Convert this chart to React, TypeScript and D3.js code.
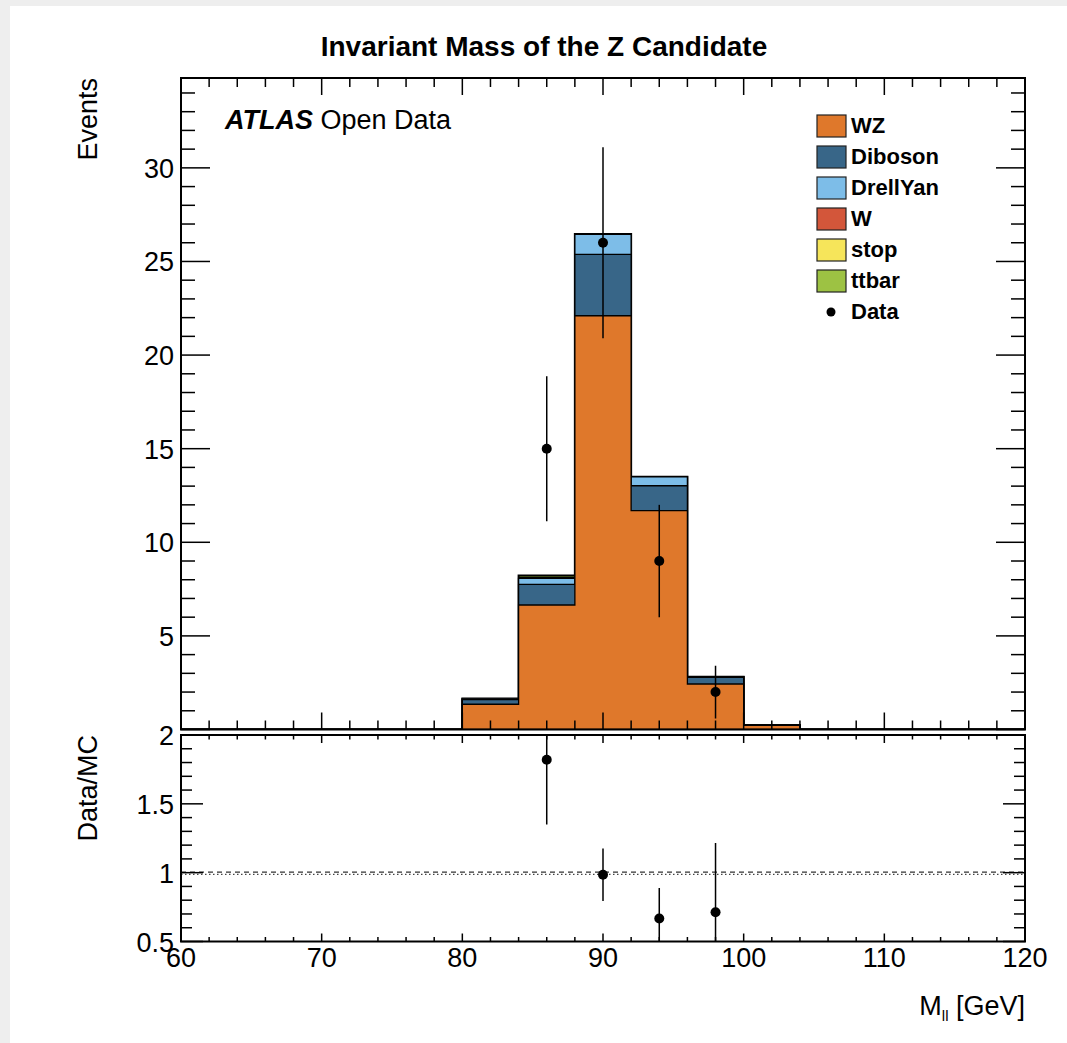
import { useEffect, useRef } from 'react';
import * as d3 from 'd3';

// Histogram bins (GeV), only non-empty region listed; width 4 GeV
const binLows = [80, 84, 88, 92, 96, 100];
const binWidth = 4;

// Stacked MC components, per bin
const wz = [1.35, 6.65, 22.1, 11.69, 2.43, 0.22];
const diboson = [0.25, 1.1, 3.28, 1.33, 0.35, 0.01];
const drellYan = [0.04, 0.32, 1.07, 0.47, 0.04, 0.0];
const wBoson = [0.0, 0.02, 0.0, 0.0, 0.0, 0.0];
const stop = [0.0, 0.03, 0.0, 0.0, 0.0, 0.0];
const ttbar = [0.02, 0.1, 0.02, 0.01, 0.0, 0.0];

// Data points
const dataX = [86, 90, 94, 98];
const dataY = [15, 26, 9, 2];
const dataErr = [3.87, 5.1, 3.0, 1.41];

// Ratio panel
const ratioY = [1.82, 0.985, 0.667, 0.712];
const ratioErr = [0.47, 0.19, 0.222, 0.503];

const SERIES = [
    { name: 'WZ', values: wz, color: '#df782b' },
    { name: 'Diboson', values: diboson, color: '#386688' },
    { name: 'DrellYan', values: drellYan, color: '#7dbde8' },
    { name: 'W', values: wBoson, color: '#d3563a' },
    { name: 'stop', values: stop, color: '#f6e55a' },
    { name: 'ttbar', values: ttbar, color: '#9dc243' },
];

const FONT = "'Liberation Sans', Arial, Helvetica, sans-serif";
const W = 1067;
const H = 1043;

export default function App() {
    const svgRef = useRef<SVGSVGElement | null>(null);

    useEffect(() => {
        if (!svgRef.current) return;
        const svg = d3.select(svgRef.current);
        svg.selectAll('*').remove();

        const x0 = 181, x1 = 1025;
        const topY0 = 78, topY1 = 729.5;
        const botY0 = 735, botY1 = 941.5;

        const x = d3.scaleLinear().domain([60, 120]).range([x0, x1]);
        const y = d3.scaleLinear().domain([0, 34.8]).range([topY1, topY0]);
        const yr = d3.scaleLinear().domain([0.5, 2]).range([botY1, botY0]);

        // page background
        svg.append('rect').attr('width', W).attr('height', H).attr('fill', '#eeeeee');
        svg.append('rect').attr('x', 10).attr('y', 6).attr('width', W - 10).attr('height', H - 6).attr('fill', '#ffffff');

        // clip paths
        const defs = svg.append('defs');
        defs.append('clipPath').attr('id', 'clip-top').append('rect')
            .attr('x', x0).attr('y', topY0).attr('width', x1 - x0).attr('height', topY1 - topY0);
        defs.append('clipPath').attr('id', 'clip-bot').append('rect')
            .attr('x', x0).attr('y', botY0).attr('width', x1 - x0).attr('height', botY1 - botY0);

        // ---- stacked histogram ----
        const cum: number[][] = [];
        let run = binLows.map(() => 0);
        SERIES.forEach(s => {
            run = run.map((v, i) => v + s.values[i]);
            cum.push(run.slice());
        });

        const stepArea = d3.area<[number, number]>()
            .x(d => x(d[0]))
            .y0(y(0))
            .y1(d => y(d[1]))
            .curve(d3.curveStepAfter);

        const gHist = svg.append('g').attr('clip-path', 'url(#clip-top)');
        for (let k = SERIES.length - 1; k >= 0; k--) {
            const vals = cum[k];
            const pts: [number, number][] = [[60, 0]];
            binLows.forEach((b, i) => pts.push([b, vals[i]]));
            const last = binLows[binLows.length - 1] + binWidth;
            pts.push([last, 0]);
            pts.push([120, 0]);
            gHist.append('path')
                .attr('d', stepArea(pts))
                .attr('fill', SERIES[k].color)
                .attr('stroke', '#000')
                .attr('stroke-width', k === SERIES.length - 1 ? 2 : 1.3);
        }

        // data points (upper)
        const gData = svg.append('g').attr('clip-path', 'url(#clip-top)');
        dataX.forEach((dx, i) => {
            gData.append('line')
                .attr('x1', x(dx)).attr('x2', x(dx))
                .attr('y1', y(dataY[i] - dataErr[i])).attr('y2', y(dataY[i] + dataErr[i]))
                .attr('stroke', '#000').attr('stroke-width', 1.5);
            gData.append('circle')
                .attr('cx', x(dx)).attr('cy', y(dataY[i])).attr('r', 5).attr('fill', '#000');
        });

        // ---- ratio panel ----
        const gRat = svg.append('g').attr('clip-path', 'url(#clip-bot)');
        gRat.append('line')
            .attr('x1', x0).attr('x2', x1).attr('y1', yr(1) - 0.5).attr('y2', yr(1) - 0.5)
            .attr('stroke', '#333').attr('stroke-width', 1.2).attr('stroke-dasharray', '5,4');
        gRat.append('line')
            .attr('x1', x0).attr('x2', x1).attr('y1', yr(1) + 1.8).attr('y2', yr(1) + 1.8)
            .attr('stroke', '#444').attr('stroke-width', 1.2).attr('stroke-dasharray', '1.5,2.5');
        dataX.forEach((dx, i) => {
            gRat.append('line')
                .attr('x1', x(dx)).attr('x2', x(dx))
                .attr('y1', yr(ratioY[i] - ratioErr[i])).attr('y2', yr(ratioY[i] + ratioErr[i]))
                .attr('stroke', '#000').attr('stroke-width', 1.5);
            gRat.append('circle')
                .attr('cx', x(dx)).attr('cy', yr(ratioY[i])).attr('r', 5).attr('fill', '#000');
        });

        // ---- ticks ----
        const tick = (g: any, x1_: number, y1_: number, x2_: number, y2_: number) =>
            g.append('line').attr('x1', x1_).attr('y1', y1_).attr('x2', x2_).attr('y2', y2_)
                .attr('stroke', '#000').attr('stroke-width', 1.5);

        const gTicks = svg.append('g');
        const xMajor = x.ticks(6);
        const xMinor = d3.range(60, 120.01, 2).filter(v => !xMajor.includes(v));

        xMajor.forEach(v => {
            tick(gTicks, x(v), topY0, x(v), topY0 + 17);
            tick(gTicks, x(v), topY1, x(v), topY1 - 17);
            tick(gTicks, x(v), botY0, x(v), botY0 + 8);
            tick(gTicks, x(v), botY1, x(v), botY1 - 8);
        });
        xMinor.forEach(v => {
            tick(gTicks, x(v), topY0, x(v), topY0 + 9);
            tick(gTicks, x(v), topY1, x(v), topY1 - 9);
            tick(gTicks, x(v), botY0, x(v), botY0 + 4.5);
            tick(gTicks, x(v), botY1, x(v), botY1 - 4.5);
        });

        // upper y ticks
        const yMajor = y.ticks(7);
        const yMinor = d3.range(0, 34.8, 1).filter(v => !yMajor.includes(v));
        yMajor.forEach(v => {
            tick(gTicks, x0, y(v), x0 + 29, y(v));
            tick(gTicks, x1, y(v), x1 - 29, y(v));
        });
        yMinor.forEach(v => {
            tick(gTicks, x0, y(v), x0 + 14, y(v));
            tick(gTicks, x1, y(v), x1 - 14, y(v));
        });

        // ratio y ticks
        const rMajor = yr.ticks(3);
        const rMinor = d3.range(5, 21, 1).map(v => v / 10).filter(v => !rMajor.includes(v));
        rMajor.forEach(v => {
            tick(gTicks, x0, yr(v), x0 + 22, yr(v));
            tick(gTicks, x1, yr(v), x1 - 22, yr(v));
        });
        rMinor.forEach(v => {
            tick(gTicks, x0, yr(v), x0 + 11, yr(v));
            tick(gTicks, x1, yr(v), x1 - 11, yr(v));
        });

        // frames
        svg.append('rect').attr('x', x0).attr('y', topY0).attr('width', x1 - x0).attr('height', topY1 - topY0)
            .attr('fill', 'none').attr('stroke', '#000').attr('stroke-width', 2);
        svg.append('rect').attr('x', x0).attr('y', botY0).attr('width', x1 - x0).attr('height', botY1 - botY0)
            .attr('fill', 'none').attr('stroke', '#000').attr('stroke-width', 2);

        // ---- labels ----
        const txt = svg.append('g').style('font-family', FONT).attr('fill', '#000');

        yMajor.filter(v => v > 0).forEach(v => {
            txt.append('text').attr('x', 174).attr('y', y(v) + 10)
                .attr('text-anchor', 'end').style('font-size', '27px').text(String(v));
        });
        rMajor.forEach(v => {
            txt.append('text').attr('x', 174).attr('y', yr(v) + 10)
                .attr('text-anchor', 'end').style('font-size', '27px').text(String(v));
        });
        xMajor.forEach(v => {
            txt.append('text').attr('x', x(v)).attr('y', 967)
                .attr('text-anchor', 'middle').style('font-size', '27px').text(String(v));
        });

        // axis titles
        txt.append('text')
            .attr('transform', `translate(97,${topY0}) rotate(-90)`)
            .attr('text-anchor', 'end').style('font-size', '27px').text('Events');
        txt.append('text')
            .attr('transform', `translate(97,${botY0}) rotate(-90)`)
            .attr('text-anchor', 'end').style('font-size', '27px').text('Data/MC');

        const xt = txt.append('text').attr('x', x1).attr('y', 1015)
            .attr('text-anchor', 'end').style('font-size', '27px');
        xt.append('tspan').text('M');
        xt.append('tspan').attr('dy', 6).style('font-size', '15px').text('ll');
        xt.append('tspan').attr('dy', -6).text(' [GeV]');

        // title
        txt.append('text').attr('x', 544).attr('y', 56)
            .attr('text-anchor', 'middle').style('font-size', '28px').style('font-weight', 'bold')
            .text('Invariant Mass of the Z Candidate');

        // ATLAS label
        const atl = txt.append('text').attr('x', 225).attr('y', 129).style('font-size', '27px');
        atl.append('tspan').style('font-weight', 'bold').style('font-style', 'italic').text('ATLAS');
        atl.append('tspan').text(' Open Data');

        // legend
        const lg = svg.append('g').style('font-family', FONT);
        SERIES.forEach((s, i) => {
            const yy = 115 + i * 31;
            lg.append('rect').attr('x', 817).attr('y', yy).attr('width', 29).attr('height', 22)
                .attr('fill', s.color).attr('stroke', '#222').attr('stroke-width', 1.2);
            lg.append('text').attr('x', 851).attr('y', yy + 18)
                .style('font-size', '22px').style('font-weight', 'bold').text(s.name);
        });
        const dy = 115 + SERIES.length * 31;
        lg.append('circle').attr('cx', 831).attr('cy', dy + 11).attr('r', 4.5).attr('fill', '#000');
        lg.append('text').attr('x', 851).attr('y', dy + 18)
            .style('font-size', '22px').style('font-weight', 'bold').text('Data');
    }, []);

    return (
        <div style={{ position: 'absolute', left: 0, top: 0 }}>
            <svg ref={svgRef} width={W} height={H} style={{ display: 'block' }} />
        </div>
    );
}
